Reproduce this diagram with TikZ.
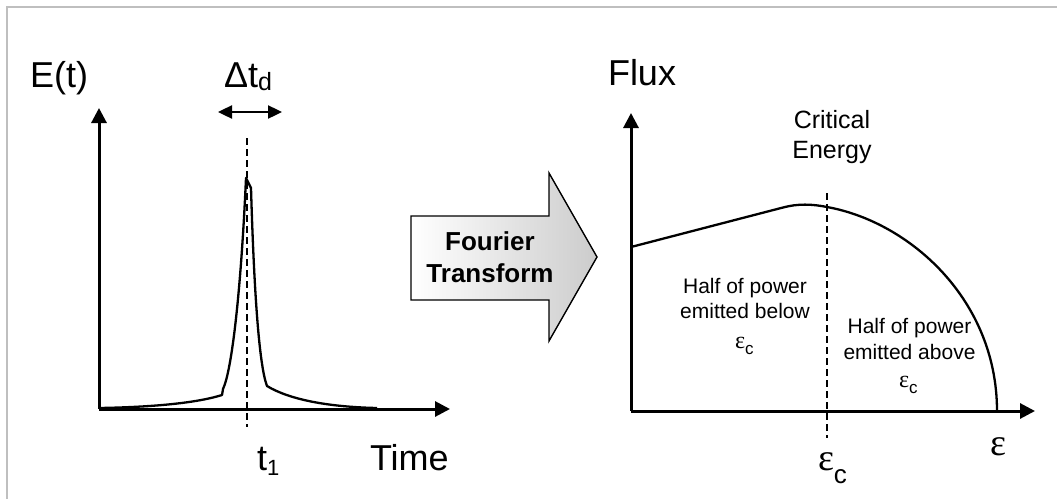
\documentclass[tikz,border=0pt]{standalone}
\usepackage{fontspec}
\setmainfont{Liberation Sans}
\newfontfamily\serifeps{Liberation Serif}
\usetikzlibrary{arrows.meta}

% epsilon with subscript c: #1 epsilon size, #2 subscript size, #3 drop of subscript
\newcommand\epsc[3]{{\serifeps\fontsize{#1}{#1}\selectfont ε}\raisebox{-#3pt}{\fontsize{#2}{#2}\selectfont c}}
\newcommand\fsz[1]{\fontsize{#1}{#1}\selectfont}

\tikzset{
  lbl/.style={inner sep=0pt, outer sep=0pt},
  axisline/.style={line width=3pt, -{Triangle[length=15pt,width=15pt]}},
  curveline/.style={line width=2.3pt, line join=round},
  guide/.style={line width=2.2pt, dash pattern=on 7pt off 4pt},
  framecol/.style={draw=black!25, line width=2pt},
  ftbox/.style={draw=black, line width=1.4pt, left color=white, right color=black!20}
}

\begin{document}
\begin{tikzpicture}[x=1pt, y=-1pt]
\useasboundingbox (0,0) rectangle (1057,498);
\fill[white] (0,0) rectangle (1057,498);

% outer frame
\draw[framecol] (7,505) -- (7,7) -- (1065,7);

% ---------- time domain ----------
\coordinate (ty0) at (99,409);
\coordinate (tytop) at (99,108);
\coordinate (txend) at (450,409);
\draw[axisline] (ty0) -- (tytop);
\draw[axisline] (ty0) -- (txend);

% pulse
\draw[curveline] (99,408) .. controls (160,407) and (200,402) .. (222,395)
  -- (223,389) .. controls (232,370) and (241,290) .. (246,178)
  -- (251,188) .. controls (254,290) and (259,365) .. (267,386)
  .. controls (290,400) and (330,407) .. (377,408);

% pulse centre
\coordinate (t1top) at (247,138);
\coordinate (t1bot) at (247,427);
\draw[guide] (t1top) -- (t1bot);

% pulse width
\coordinate (dl) at (218,112);
\coordinate (dr) at (282,112);
\draw[line width=2.4pt, {Triangle[length=14pt,width=13pt]}-{Triangle[length=14pt,width=13pt]}] (dl) -- (dr);

\node[lbl, anchor=base west] (Et) at (30,87) {\fsz{36}E(t)};
\node[lbl, anchor=base west] (dtd) at (224,87) {\fsz{36}Δt\raisebox{-3pt}{\fsz{25}d}};
\node[lbl, anchor=base west] (t1) at (257,470) {\fsz{36}t\raisebox{-5pt}{\fsz{22}1}};
\node[lbl, anchor=base west] (time) at (370,470) {\fsz{36}Time};

% ---------- transform arrow ----------
\path[ftbox] (411,216) -- (549,216) -- (549,173) -- (597,257)
  -- (549,341) -- (549,300) -- (411,300) -- cycle;
\node[lbl, anchor=base] (ft1) at (490,250) {\fsz{26}\bfseries Fourier};
\node[lbl, anchor=base] (ft2) at (490,282) {\fsz{26}\bfseries Transform};

% ---------- energy domain ----------
\coordinate (fy0) at (631,411);
\coordinate (fytop) at (631,113);
\coordinate (fxend) at (1035,411);
\draw[axisline] (fy0) -- (fytop);
\draw[axisline] (fy0) -- (fxend);

% spectrum
\draw[curveline] (631,247) -- (783,207.5)
  .. controls (798,203.5) and (812,204) .. (827,207)
  .. controls (910,222) and (997,300) .. (997,411);

% critical energy
\coordinate (ectop) at (827,193);
\coordinate (ecbot) at (827,438);
\draw[guide] (ectop) -- (ecbot);

\node[lbl, anchor=base west] (flux) at (608,85) {\fsz{36}Flux};
\node[lbl, anchor=base] (crit1) at (832,128) {\fsz{25}Critical};
\node[lbl, anchor=base] (crit2) at (832,158) {\fsz{25}Energy};

\node[lbl, anchor=base] (lo1) at (745,293) {\fsz{21}Half of power};
\node[lbl, anchor=base] (lo2) at (745,318) {\fsz{21}emitted below};
\node[lbl, anchor=base west] (lo3) at (735,348) {\epsc{24}{17}{6}};

\node[lbl, anchor=base] (hi1) at (909.5,333) {\fsz{21}Half of power};
\node[lbl, anchor=base] (hi2) at (909.5,359) {\fsz{21}emitted above};
\node[lbl, anchor=base west] (hi3) at (899,387) {\epsc{24}{17}{6}};

\node[lbl, anchor=base west] (ec) at (818,470) {\epsc{38}{26}{13}};
\node[lbl, anchor=base west] (eps) at (990,455) {\serifeps\fsz{38}ε};
\end{tikzpicture}
\end{document}
